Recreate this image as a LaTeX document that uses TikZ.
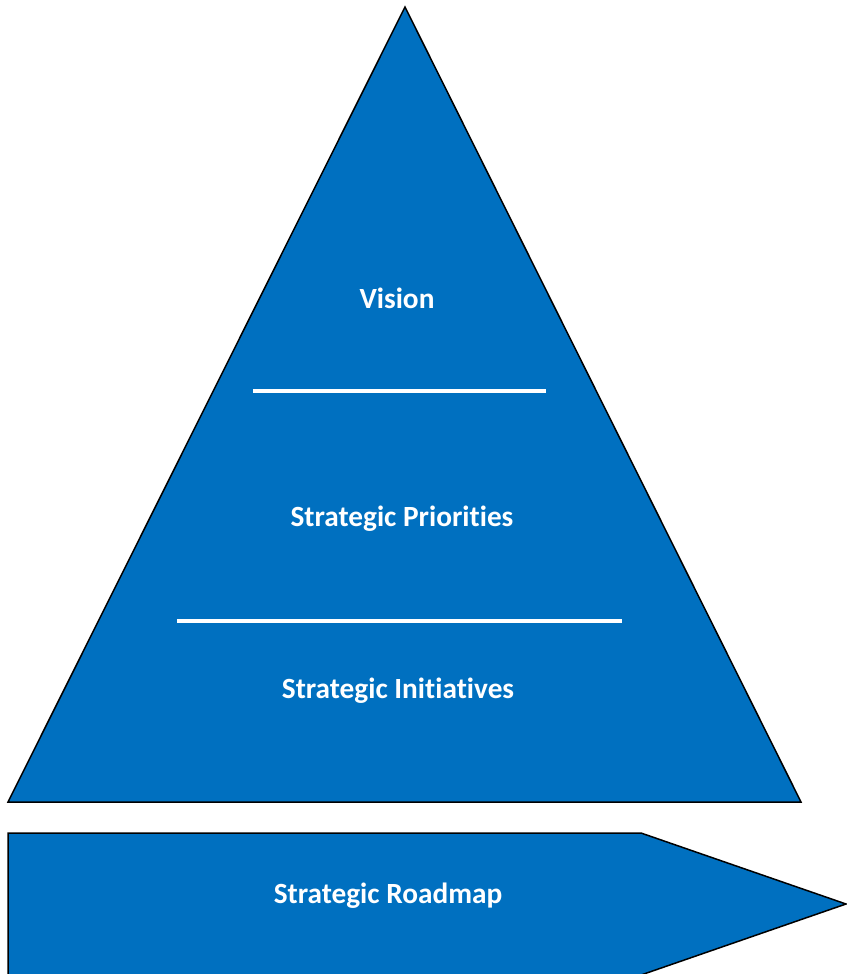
\documentclass[tikz,border=0pt]{standalone}
\usepackage{fontspec}
\setmainfont{Carlito}[Ligatures={NoCommon}]
\usepackage{xcolor}
\usepackage{tikz}
\usetikzlibrary{positioning}
\definecolor{pyrblue}{HTML}{0070C0}

\begin{document}
\begin{tikzpicture}[x=1pt, y=-1pt,
    tiertext/.style={text=white, font=\fontsize{29.3}{34}\selectfont\bfseries},
    bluefill/.style={fill=pyrblue, draw=black, line width=1.5pt, line join=miter}]
                \useasboundingbox (0, 0) rectangle (846, 974);
                \coordinate (apex) at (405, 7);
                \coordinate (bl) at (8, 802);
                \coordinate (br) at (801, 802);
                \draw[bluefill] (apex) -- (br) -- (bl) -- cycle;
                \draw[bluefill] (8, 833) -- (641, 833) -- (846, 904) -- (641, 975) -- (8, 975) -- cycle;

                \draw[white, line width=4pt] (253, 391) -- (546, 391);
                \draw[white, line width=4pt] (177, 621) -- (622, 621);

                \node[tiertext] (vision) at (397, 298) {Vision};
                \node[tiertext] (prio) at (402, 519) {Strategic Priorities};
                \node[tiertext] (init) at (398, 691) {Strategic Initiatives};
                \node[tiertext] (road) at (388, 896) {Strategic Roadmap};
            \end{tikzpicture}
\end{document}
